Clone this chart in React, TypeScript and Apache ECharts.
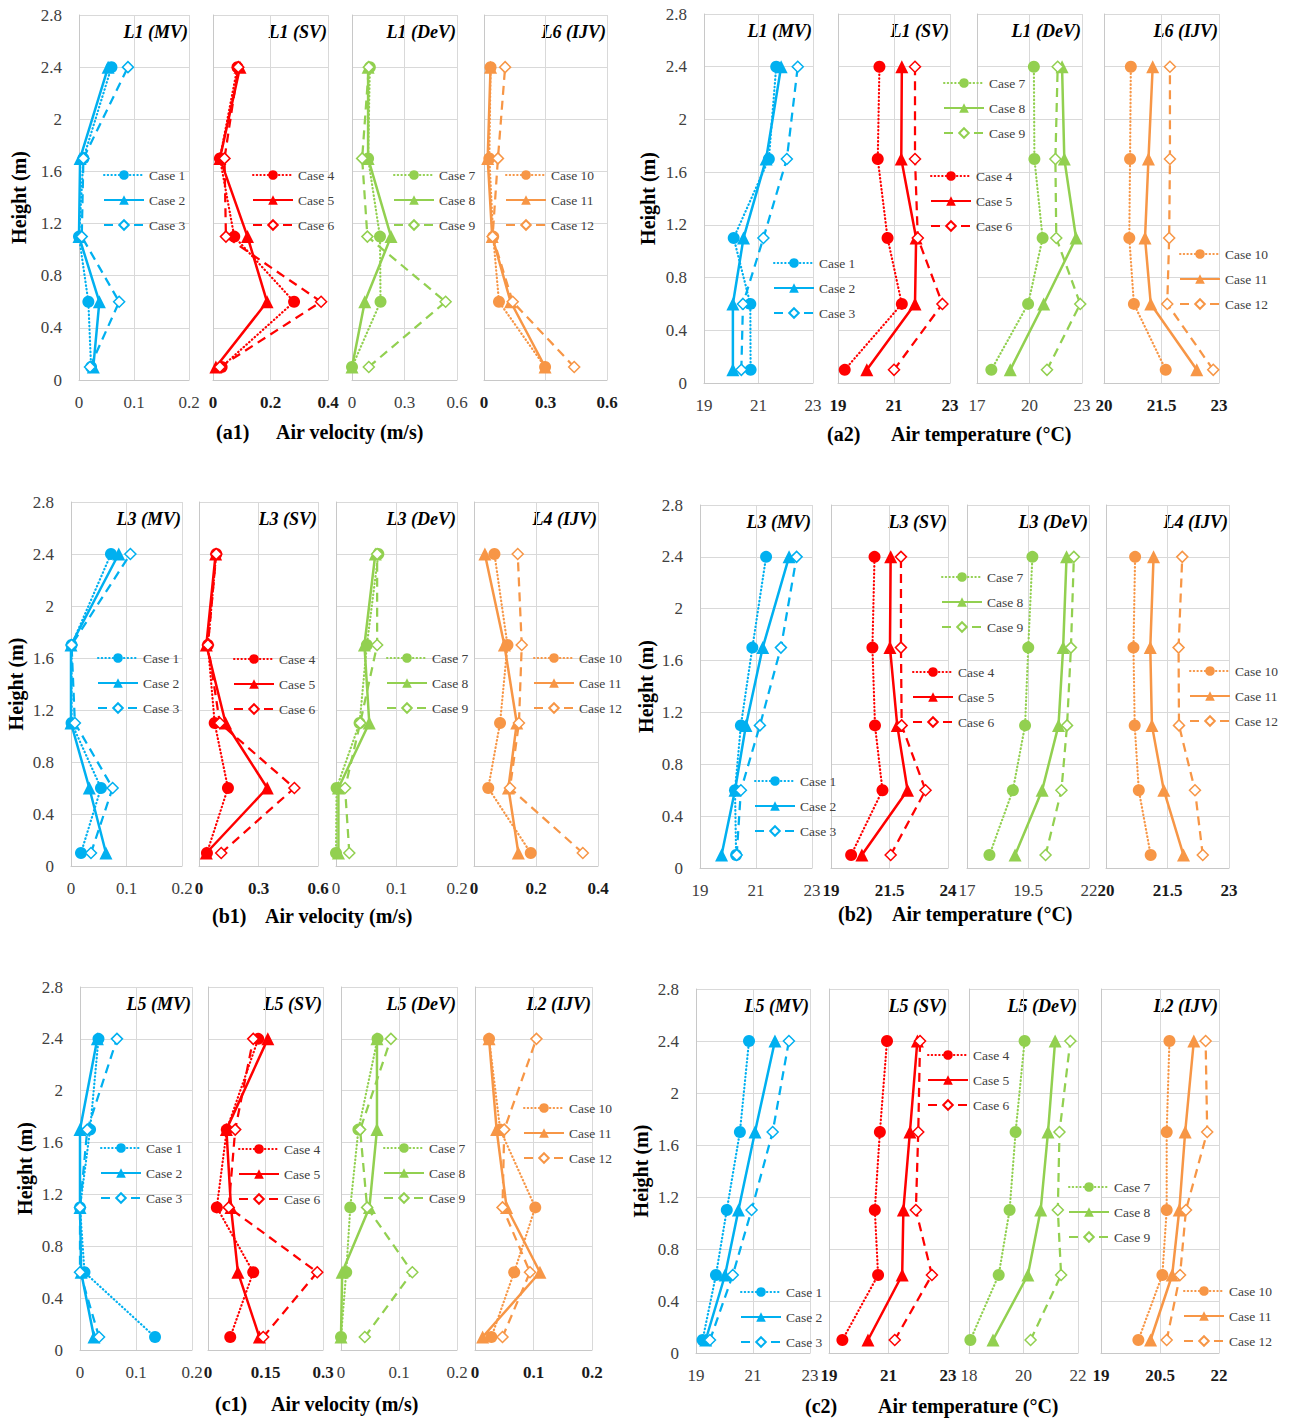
import React, { useEffect, useRef } from 'react';
import * as echarts from 'echarts';

// Measurement heights (m), bottom to top
const HEIGHTS = [0.1, 0.6, 1.1, 1.7, 2.4];

// Each profile lists values at HEIGHTS, one row per case
// (a1) air velocity, m/s
const A1_L1_MV = [
  [0.022, 0.017, 0.0, 0.008, 0.059],
  [0.026, 0.037, 0.0, 0.002, 0.053],
  [0.02, 0.073, 0.005, 0.008, 0.089],
];
const A1_L1_SV = [
  [0.03, 0.282, 0.074, 0.024, 0.085],
  [0.01, 0.188, 0.12, 0.024, 0.094],
  [0.024, 0.376, 0.045, 0.04, 0.088],
];
const A1_L1_DEV = [
  [0.0, 0.163, 0.16, 0.092, 0.102],
  [0.0, 0.073, 0.223, 0.092, 0.092],
  [0.096, 0.535, 0.088, 0.058, 0.096],
];
const A1_L6_IJV = [
  [0.298, 0.073, 0.045, 0.026, 0.032],
  [0.298, 0.13, 0.04, 0.018, 0.032],
  [0.44, 0.14, 0.042, 0.068, 0.103],
];

// (a2) air temperature, °C
const A2_L1_MV = [
  [20.71, 20.7, 20.09, 21.38, 21.65],
  [20.06, 20.06, 20.45, 21.28, 21.83],
  [20.37, 20.43, 21.18, 22.04, 22.44],
];
const A2_L1_SV = [
  [19.24, 21.28, 20.77, 20.42, 20.48],
  [20.03, 21.75, 21.79, 21.26, 21.28],
  [21.0, 22.73, 21.85, 21.75, 21.75],
];
const A2_L1_DEV = [
  [17.82, 19.92, 20.75, 20.28, 20.25],
  [18.9, 20.81, 22.66, 21.99, 21.86],
  [21.0, 22.9, 21.53, 21.48, 21.61],
];
const A2_L6_IJV = [
  [21.61, 20.78, 20.66, 20.68, 20.7],
  [22.42, 21.22, 21.07, 21.16, 21.27],
  [22.85, 21.65, 21.7, 21.72, 21.72],
];

// (b1) air velocity, m/s
const B1_L3_MV = [
  [0.018, 0.054, 0.001, 0.001, 0.072],
  [0.063, 0.033, 0.0, 0.0, 0.086],
  [0.036, 0.075, 0.007, 0.001, 0.107],
];
const B1_L3_SV = [
  [0.04, 0.146, 0.079, 0.045, 0.087],
  [0.037, 0.344, 0.134, 0.037, 0.084],
  [0.112, 0.481, 0.105, 0.045, 0.087],
];
const B1_L3_DEV = [
  [0.0, 0.001, 0.039, 0.051, 0.07],
  [0.004, 0.004, 0.055, 0.047, 0.065],
  [0.022, 0.015, 0.04, 0.068, 0.068],
];
const B1_L4_IJV = [
  [0.183, 0.046, 0.084, 0.108, 0.066],
  [0.143, 0.111, 0.138, 0.098, 0.035],
  [0.351, 0.116, 0.145, 0.154, 0.141],
];

// (b2) air temperature, °C
const B2_L3_MV = [
  [20.29, 20.25, 20.46, 20.87, 21.36],
  [19.77, 20.25, 20.64, 21.24, 22.18],
  [20.31, 20.46, 21.14, 21.89, 22.45],
];
const B2_L3_SV = [
  [19.86, 21.2, 20.88, 20.77, 20.86],
  [20.32, 22.27, 21.83, 21.52, 21.55],
  [21.55, 23.04, 22.02, 21.99, 21.99],
];
const B2_L3_DEV = [
  [17.92, 18.88, 19.38, 19.51, 19.68],
  [18.97, 20.08, 20.75, 20.94, 21.08],
  [20.22, 20.87, 21.1, 21.26, 21.38],
];
const B2_L4_IJV = [
  [21.09, 20.8, 20.7, 20.67, 20.71],
  [21.89, 21.41, 21.12, 21.08, 21.16],
  [22.36, 22.17, 21.78, 21.77, 21.86],
];

// (c1) air velocity, m/s
const C1_L5_MV = [
  [0.134, 0.008, 0.0, 0.018, 0.033],
  [0.025, 0.002, 0.0, 0.0, 0.031],
  [0.034, 0.0, 0.0, 0.013, 0.066],
];
const C1_L5_SV = [
  [0.058, 0.118, 0.023, 0.049, 0.131],
  [0.134, 0.078, 0.06, 0.048, 0.156],
  [0.144, 0.285, 0.054, 0.071, 0.118],
];
const C1_L5_DEV = [
  [0.0, 0.009, 0.016, 0.03, 0.063],
  [0.0, 0.002, 0.049, 0.062, 0.062],
  [0.041, 0.123, 0.045, 0.033, 0.086],
];
const C1_L2_IJV = [
  [0.028, 0.067, 0.103, 0.043, 0.024],
  [0.013, 0.111, 0.054, 0.037, 0.024],
  [0.047, 0.094, 0.047, 0.05, 0.105],
];

// (c2) air temperature, °C
const C2_L5_MV = [
  [19.23, 19.7, 20.08, 20.54, 20.86],
  [19.34, 20.02, 20.49, 21.07, 21.77],
  [19.49, 20.29, 20.95, 21.69, 22.26],
];
const C2_L5_SV = [
  [19.45, 20.65, 20.54, 20.71, 20.95],
  [20.31, 21.46, 21.5, 21.72, 21.97],
  [21.21, 22.46, 21.92, 22.0, 22.06],
];
const C2_L5_DEV = [
  [18.05, 19.09, 19.49, 19.71, 20.04],
  [18.88, 20.16, 20.63, 20.9, 21.16],
  [20.26, 21.38, 21.26, 21.32, 21.72],
];
const C2_L2_IJV = [
  [19.95, 20.56, 20.67, 20.67, 20.74],
  [20.26, 20.81, 20.99, 21.14, 21.36],
  [20.67, 21.01, 21.16, 21.7, 21.66],
];

// x-axis [min, max, interval] for the four profiles of each panel
const A1_RANGES = [[0, 0.2, 0.1], [0, 0.4, 0.2], [0, 0.6, 0.3], [0, 0.6, 0.3]];
const A2_RANGES = [[19, 23, 2], [19, 23, 2], [17, 23, 3], [20, 23, 1.5]];
const B1_RANGES = [[0, 0.2, 0.1], [0, 0.6, 0.3], [0, 0.2, 0.1], [0, 0.4, 0.2]];
const B2_RANGES = [[19, 23, 2], [19, 24, 2.5], [17, 22, 2.5], [20, 23, 1.5]];
const C1_RANGES = [[0, 0.2, 0.1], [0, 0.3, 0.15], [0, 0.2, 0.1], [0, 0.2, 0.1]];
const C2_RANGES = [[19, 23, 2], [19, 23, 2], [18, 22, 2], [19, 22, 1.5]];

// Height axis
const Y_MIN = 0;
const Y_MAX = 2.8;
const Y_STEP = 0.4;

const A1_TITLES = ['L1 (MV)', 'L1 (SV)', 'L1 (DeV)', 'L6 (IJV)'];
const A2_TITLES = ['L1 (MV)', 'L1 (SV)', 'L1 (DeV)', 'L6 (IJV)'];
const B1_TITLES = ['L3 (MV)', 'L3 (SV)', 'L3 (DeV)', 'L4 (IJV)'];
const B2_TITLES = ['L3 (MV)', 'L3 (SV)', 'L3 (DeV)', 'L4 (IJV)'];
const C1_TITLES = ['L5 (MV)', 'L5 (SV)', 'L5 (DeV)', 'L2 (IJV)'];
const C2_TITLES = ['L5 (MV)', 'L5 (SV)', 'L5 (DeV)', 'L2 (IJV)'];

const CASE_NAMES = [
  ['Case 1', 'Case 2', 'Case 3'],
  ['Case 4', 'Case 5', 'Case 6'],
  ['Case 7', 'Case 8', 'Case 9'],
  ['Case 10', 'Case 11', 'Case 12'],
];

const VELOCITY = 'Air velocity (m/s)';
const TEMPERATURE = 'Air temperature (°C)';
const HEIGHT_NAME = 'Height (m)';

// ---- styling & layout ----
const FONT = '"Liberation Serif", "Times New Roman", serif';
const GROUP_COLORS = ['#00B0F0', '#FF0000', '#92D050', '#F79646'];
const GRID_COLOR = '#D9D9D9';
const AXIS_COLOR = '#C8C8C8';

const CASE_STYLES = [
  { symbol: 'circle', size: 12, dash: [0.5, 3.2] as any, cap: 'round', width: 2.2, hollow: false },
  { symbol: 'triangle', size: 13, dash: 'solid' as any, cap: 'butt', width: 2.5, hollow: false },
  { symbol: 'diamond', size: 11, dash: [9, 6] as any, cap: 'butt', width: 2.25, hollow: true },
];

type PanelLayout = {
  top: number;
  bottom: number;
  cols: number[][]; // [left, right] of each profile
  legends: number[][]; // [icon left, first row centre y]
  tag: number[]; // [x of tag, x of quantity, y]
  nameGap: number;
};

const LAYOUTS: Record<string, PanelLayout> = {
  a1: {
    top: 15, bottom: 380,
    cols: [[79, 189], [213, 328], [352, 457], [484, 607]],
    legends: [[103, 175], [252, 175], [393, 175], [505, 175]],
    tag: [216, 276, 432], nameGap: 50,
  },
  a2: {
    top: 14, bottom: 383,
    cols: [[704, 813], [838, 950], [977, 1082], [1104, 1219]],
    legends: [[773, 263], [930, 176], [943, 83], [1179, 254]],
    tag: [827, 891, 434], nameGap: 46,
  },
  b1: {
    top: 502, bottom: 866,
    cols: [[71, 182], [199, 318], [336, 457], [474, 598]],
    legends: [[97, 658], [233, 659], [386, 658], [533, 658]],
    tag: [212, 265, 916], nameGap: 45,
  },
  b2: {
    top: 505, bottom: 868,
    cols: [[700, 812], [831, 948], [967, 1089], [1106, 1229]],
    legends: [[754, 781], [912, 672], [941, 577], [1189, 671]],
    tag: [838, 892, 914], nameGap: 44,
  },
  c1: {
    top: 987, bottom: 1350,
    cols: [[80, 192], [208, 323], [341, 457], [475, 592]],
    legends: [[100, 1148], [238, 1149], [383, 1148], [523, 1108]],
    tag: [215, 271, 1404], nameGap: 45,
  },
  c2: {
    top: 989, bottom: 1353,
    cols: [[696, 810], [829, 948], [969, 1078], [1101, 1219]],
    legends: [[740, 1292], [927, 1055], [1068, 1187], [1183, 1291]],
    tag: [805, 878, 1406], nameGap: 45,
  },
};

const PANELS = [
  { key: 'a1', tag: '(a1)', quantity: VELOCITY, titles: A1_TITLES, ranges: A1_RANGES, data: [A1_L1_MV, A1_L1_SV, A1_L1_DEV, A1_L6_IJV] },
  { key: 'a2', tag: '(a2)', quantity: TEMPERATURE, titles: A2_TITLES, ranges: A2_RANGES, data: [A2_L1_MV, A2_L1_SV, A2_L1_DEV, A2_L6_IJV] },
  { key: 'b1', tag: '(b1)', quantity: VELOCITY, titles: B1_TITLES, ranges: B1_RANGES, data: [B1_L3_MV, B1_L3_SV, B1_L3_DEV, B1_L4_IJV] },
  { key: 'b2', tag: '(b2)', quantity: TEMPERATURE, titles: B2_TITLES, ranges: B2_RANGES, data: [B2_L3_MV, B2_L3_SV, B2_L3_DEV, B2_L4_IJV] },
  { key: 'c1', tag: '(c1)', quantity: VELOCITY, titles: C1_TITLES, ranges: C1_RANGES, data: [C1_L5_MV, C1_L5_SV, C1_L5_DEV, C1_L2_IJV] },
  { key: 'c2', tag: '(c2)', quantity: TEMPERATURE, titles: C2_TITLES, ranges: C2_RANGES, data: [C2_L5_MV, C2_L5_SV, C2_L5_DEV, C2_L2_IJV] },
];

function buildOption() {
  const grid: any[] = [];
  const xAxis: any[] = [];
  const yAxis: any[] = [];
  const series: any[] = [];
  const legend: any[] = [];
  const graphic: any[] = [];

  PANELS.forEach((panel) => {
    const L = LAYOUTS[panel.key];
    panel.data.forEach((profile, k) => {
      const idx = grid.length;
      const [x0, x1] = L.cols[k];
      const [mn, mx, step] = panel.ranges[k];
      const boldTicks = k === 1 || k === 3;
      grid.push({ left: x0, top: L.top, width: x1 - x0, height: L.bottom - L.top });
      xAxis.push({
        type: 'value', gridIndex: idx, min: mn, max: mx, interval: step,
        axisLine: { show: true, lineStyle: { color: AXIS_COLOR, width: 1 } },
        axisTick: { show: false },
        splitLine: { show: true, lineStyle: { color: GRID_COLOR, width: 1 } },
        axisLabel: {
          show: true, margin: 14, showMinLabel: true, showMaxLabel: true,
          fontFamily: FONT, fontSize: 17, fontWeight: boldTicks ? 'bold' : 'normal',
          color: boldTicks ? '#1a1a1a' : '#404040',
        },
      });
      yAxis.push({
        type: 'value', gridIndex: idx, min: Y_MIN, max: Y_MAX, interval: Y_STEP,
        axisLine: { show: true, lineStyle: { color: AXIS_COLOR, width: 1 } },
        axisTick: { show: false },
        splitLine: { show: true, lineStyle: { color: GRID_COLOR, width: 1 } },
        axisLabel: {
          show: k === 0, margin: 17, showMinLabel: true, showMaxLabel: true,
          fontFamily: FONT, fontSize: 17, color: '#404040',
        },
        name: k === 0 ? HEIGHT_NAME : '',
        nameLocation: 'middle',
        nameRotate: 90,
        nameGap: L.nameGap,
        nameTextStyle: { fontFamily: FONT, fontSize: 20, fontWeight: 'bold', color: '#000' },
      });
      const color = GROUP_COLORS[k];
      profile.forEach((vals, c) => {
        const st = CASE_STYLES[c];
        series.push({
          type: 'line',
          name: CASE_NAMES[k][c],
          xAxisIndex: idx,
          yAxisIndex: idx,
          data: HEIGHTS.map((h, i) => [vals[i], h]),
          symbol: st.symbol,
          symbolSize: st.size,
          clip: false,
          color,
          lineStyle: { color, width: st.width, type: st.dash, cap: st.cap },
          itemStyle: st.hollow
            ? { color: '#FFFFFF', borderColor: color, borderWidth: 1.5 }
            : { color, borderColor: color, borderWidth: 0 },
          emphasis: { disabled: true },
        });
      });
      const [lx, ly] = L.legends[k];
      legend.push({
        left: lx, top: ly - 7, orient: 'vertical', padding: 0,
        itemWidth: 40, itemHeight: 12, itemGap: 11, selectedMode: false,
        data: CASE_NAMES[k],
        textStyle: { fontFamily: FONT, fontSize: 13.5, color: '#404040' },
      });
      graphic.push({
        type: 'text', x: x1 - 1, y: L.top + 17,
        style: {
          text: panel.titles[k], fontFamily: FONT, fontSize: 18, fontWeight: 'bold', fontStyle: 'italic',
          fill: '#000', align: 'right', verticalAlign: 'middle',
        },
      });
    });
    graphic.push({
      type: 'text', x: L.tag[0], y: L.tag[2],
      style: { text: panel.tag, fontFamily: FONT, fontSize: 20, fontWeight: 'bold', fill: '#000', verticalAlign: 'middle' },
    });
    graphic.push({
      type: 'text', x: L.tag[1], y: L.tag[2],
      style: { text: panel.quantity, fontFamily: FONT, fontSize: 20, fontWeight: 'bold', fill: '#000', verticalAlign: 'middle' },
    });
  });

  return {
    animation: false,
    backgroundColor: '#FFFFFF',
    grid, xAxis, yAxis, series, legend, graphic,
  };
}

export default function App() {
  const ref = useRef<HTMLDivElement>(null);
  useEffect(() => {
    if (!ref.current) return;
    const chart = echarts.init(ref.current, undefined, { renderer: 'svg' });
    chart.setOption(buildOption() as any);
    return () => chart.dispose();
  }, []);
  return (
    <div
      ref={ref}
      style={{ position: 'absolute', left: 0, top: 0, width: 1290, height: 1421, background: '#fff' }}
    />
  );
}
